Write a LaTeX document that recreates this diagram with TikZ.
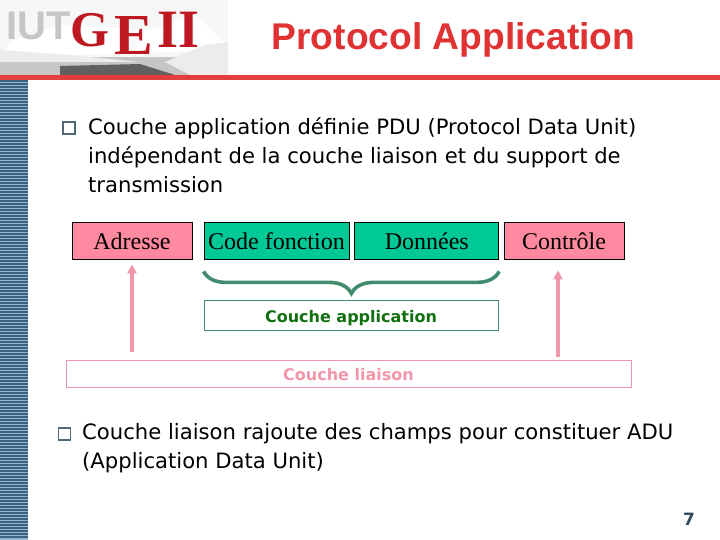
\documentclass[tikz,border=0pt]{standalone}
\usepackage{fontspec}
\setmainfont{DejaVu Sans}
\newfontfamily\titlefont{Liberation Sans}
\newfontfamily\boxfont{Liberation Serif}
\usepackage{xcolor}
\usetikzlibrary{arrows.meta, positioning, calc, decorations.pathreplacing}
\definecolor{iutred}{RGB}{226,62,62}
\definecolor{titlered}{RGB}{224,50,50}
\definecolor{stripeblue}{RGB}{58,98,130}
\definecolor{stripepale}{RGB}{150,180,205}
\definecolor{fieldpink}{RGB}{255,138,160}
\definecolor{fieldgreen}{RGB}{0,200,150}
\definecolor{bracegreen}{RGB}{66,140,110}
\definecolor{textgreen}{RGB}{16,112,16}
\definecolor{linkpink}{RGB}{240,150,170}
\definecolor{bulletgray}{RGB}{80,105,120}
\definecolor{numteal}{RGB}{50,75,95}
\definecolor{logored}{RGB}{190,25,35}
\tikzset{
    fieldbox/.style={rectangle, draw=black, fill=#1, line width=0.8pt, minimum height=37pt, inner sep=0pt, text height=17pt, text depth=0pt, font=\boxfont\fontsize{24}{28}\selectfont},
    layerbox/.style={rectangle, draw=#1, fill=white, line width=0.8pt, inner sep=0pt, text height=13pt, text depth=0pt, font=\fontsize{16}{20}\selectfont\bfseries},
    bodytext/.style={anchor=north west, align=left, inner sep=0pt, font=\fontsize{21.15}{29}\selectfont},
    bulletbox/.style={rectangle, draw=bulletgray, line width=1.3pt, minimum size=12pt, inner sep=0pt},
    uparrow/.style={-{Triangle[length=9pt,width=9pt]}, linkpink, line width=3.6pt},
    appbrace/.style={bracegreen, line width=3.6pt, decorate, decoration={brace, mirror, amplitude=22pt}},
    logotext/.style={inner sep=0pt, text=logored, font=\boxfont\fontsize{#1}{#1}\selectfont\bfseries}
}
\begin{document}
\begin{tikzpicture}[x=1pt, y=-1pt]
\useasboundingbox (0,0) rectangle (720,540);

% logo
\fill[gray!6] (0,0) rectangle (228,75);
\fill[white] (10,42) -- (60,25) -- (150,30) -- (195,15) -- (228,45) -- (228,50) -- (0,58) -- cycle;
\fill[gray!45] (0,57) rectangle (228,75);
\fill[gray!75!black] (60,66) -- (140,64) -- (175,75) -- (60,75) -- cycle;
\fill[gray!15] (165,62) -- (205,45) -- (228,42) -- (228,75) -- (190,75) -- cycle;
\fill[gray!15] (0,50) -- (70,55) -- (140,62) -- (0,62) -- cycle;
\node[inner sep=0pt, anchor=west, text=gray!45, font=\titlefont\fontsize{40}{40}\selectfont\bfseries] (iut) at (6,26) {IUT};
\node[logotext=50, anchor=west] (lg) at (70,30) {G};
\node[logotext=58, anchor=west] (le) at (114,36) {E};
\node[logotext=54, anchor=west] (lii) at (157,30) {II};

% band and left stripes
\fill[iutred] (0,75) rectangle (720,80);
\fill[stripepale] (0,80) rectangle (28,540);
\foreach \y in {80,83,...,538}
    \fill[stripeblue] (0,\y) rectangle (28,\y+1.6);

% title
\node[text=titlered, inner sep=0pt, font=\titlefont\fontsize{37.2}{42}\selectfont\bfseries] (title) at (453.5,40) {Protocol Application};

% text
\node[bulletbox] (bul1) at (69,128) {};
\node[bodytext] (txt1) at (88,117) {Couche application définie PDU (Protocol Data Unit)\\indépendant de la couche liaison et du support de\\transmission};
\node[bulletbox] (bul2) at (64.5,434) {};
\node[bodytext] (txt2) at (82,423) {Couche liaison rajoute des champs pour constituer ADU\\(Application Data Unit)};

% fields
\node[fieldbox=fieldpink, minimum width=120pt] (adr) at (132,240.5) {Adresse};
\node[fieldbox=fieldgreen, minimum width=145pt] (code) at (276.5,240.5) {Code fonction};
\node[fieldbox=fieldgreen, minimum width=144pt, right=5pt of code] (data) {Données};
\node[fieldbox=fieldpink, minimum width=120pt] (ctrl) at (564,240.5) {Contrôle};

% layers
\node[layerbox=bracegreen, text=textgreen, minimum width=294pt, minimum height=30pt] (app) at (351,315.5) {Couche application};
\node[layerbox=linkpink, text=linkpink, minimum width=565pt, minimum height=27pt] (link) at (348.5,373.5) {Couche liaison};

\draw[appbrace] ([yshift=-12pt]code.south west) -- ([yshift=-12pt]data.south east);
\draw[uparrow] ([yshift=8pt]link.north -| adr.south) -- ([yshift=-5pt]adr.south);
\draw[uparrow] ([yshift=3pt]link.north -| 558,0) -- ([yshift=-11pt]ctrl.south -| 558,0);

\node[text=numteal, inner sep=0pt, font=\fontsize{17}{20}\selectfont\bfseries] (num) at (689,519) {7};
\end{tikzpicture}
\end{document}
